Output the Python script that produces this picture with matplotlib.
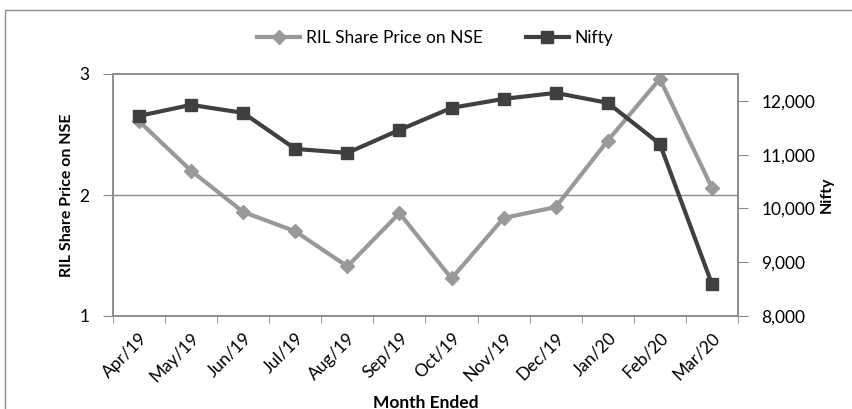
import numpy as np
import matplotlib.pyplot as plt
from matplotlib.patches import Rectangle

plt.rcParams['font.family'] = ['Lato', 'DejaVu Sans']

months = ['Apr/19', 'May/19', 'Jun/19', 'Jul/19', 'Aug/19', 'Sep/19',
          'Oct/19', 'Nov/19', 'Dec/19', 'Jan/20', 'Feb/20', 'Mar/20']
ril = [2.61, 2.20, 1.86, 1.70, 1.41, 1.85, 1.31, 1.81, 1.90, 2.45, 2.96, 2.06]
nifty = [11721, 11926, 11777, 11107, 11033, 11460, 11870, 12037, 12149,
         11963, 11200, 8595]

fig = plt.figure(figsize=(8.53, 4.09), dpi=100)
fig.patches.append(Rectangle((5 / 853, -0.1), 1.0, 1 - 10 / 409 + 0.1,
                             transform=fig.transFigure, fill=False,
                             edgecolor='#8c8c8c', lw=1.0))
ax = fig.add_axes([113 / 853, 1 - 316 / 409, 625 / 853, 242 / 409])
ax2 = ax.twinx()

x = np.arange(len(months))
l1, = ax.plot(x, ril, color='#999999', lw=3, marker='D', ms=7,
              label='RIL Share Price on NSE')
l2, = ax2.plot(x, nifty, color='#404040', lw=3, marker='s', ms=9,
               label='Nifty')

ax.set_xlim(-0.5, len(months) - 0.5)
ax.set_ylim(1, 3)
ax.set_yticks([1, 2, 3])
ax.axhline(2, color='#8c8c8c', lw=1)
ax2.set_ylim(8000, 12500)
ax2.set_yticks([8000, 9000, 10000, 11000, 12000])
ax2.set_yticklabels(['{:,}'.format(v) for v in [8000, 9000, 10000, 11000, 12000]])

ax.set_xticks(x)
ax.set_xticklabels(months, rotation=45, ha='right', rotation_mode='anchor',
                   fontsize=12.5)
ax.set_xticks(np.arange(-0.5, len(months)), minor=True)
ax.tick_params(axis='x', which='major', length=0, pad=10)
ax.tick_params(axis='x', which='minor', length=5, color='#8c8c8c', direction='out')
ax.tick_params(axis='y', labelsize=12.5, length=7, color='#8c8c8c', pad=10)
ax2.tick_params(axis='y', labelsize=12.5, length=7, color='#8c8c8c', pad=10)

for a in (ax, ax2):
    for s in a.spines.values():
        s.set_color('#8c8c8c')
        s.set_linewidth(1.2)

ax.set_xlabel('Month Ended', fontsize=12.5, fontweight='bold', labelpad=7)
ax.set_ylabel('RIL Share Price on NSE', fontsize=11.5, fontweight='bold', labelpad=4)
ax2.set_ylabel('Nifty', fontsize=11.5, fontweight='bold', labelpad=3)

fig.legend(handles=[l1, l2], loc='center', bbox_to_anchor=(0.51, 1 - 38 / 409),
           ncol=2, frameon=False, fontsize=12.5, handlelength=2.5,
           columnspacing=2.5, handletextpad=0.3)

fig.savefig('out.png', dpi=100)
